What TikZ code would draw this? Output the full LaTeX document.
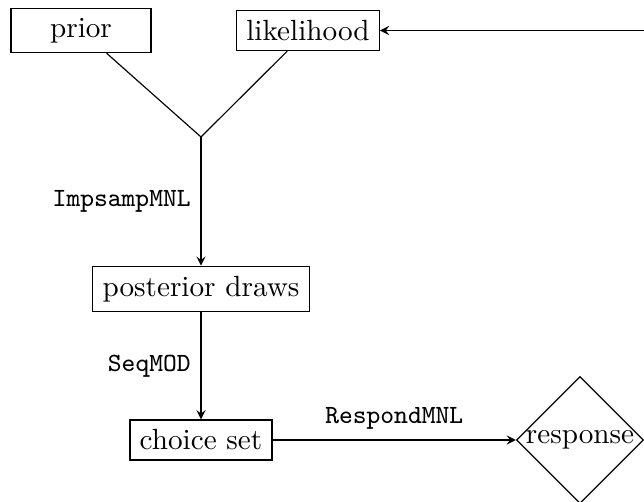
\documentclass[tikz,border=0pt]{standalone}
\usepackage{tikz}
\usetikzlibrary{shapes.geometric,arrows}

\begin{document}
\begin{tikzpicture}[x=0.3425pt,y=-0.3425pt,>=stealth,
    box/.style={draw,rectangle,inner sep=3.33pt},
    decide/.style={draw,diamond,aspect=1,inner sep=0pt},
    fn/.style={font=\small\ttfamily}]
  \useasboundingbox (0,0) rectangle (644,502);
  % nodes
  \node[box,minimum width=48pt] (prior) at (81,30.5) {prior};
  \node[box] (lik) at (308,30.5) {likelihood};
  \coordinate (join) at (201,137);
  \node[box] (post) at (201,289) {posterior draws};
  \node[box] (choice) at (201,440) {choice set};
  \node[decide] (resp) at (580,440) {response};
  \coordinate (back) at (644,30.5);
  % edges
  \draw (prior) -- (join);
  \draw (lik) -- (join);
  \draw[->] (join) -- node[fn,left] {ImpsampMNL} (post);
  \draw[->] (post) -- node[fn,left] {SeqMOD} (choice);
  \draw[->] (choice) -- node[fn,above] {RespondMNL} (resp);
  \draw[->] (back) -- (lik);
\end{tikzpicture}
\end{document}
